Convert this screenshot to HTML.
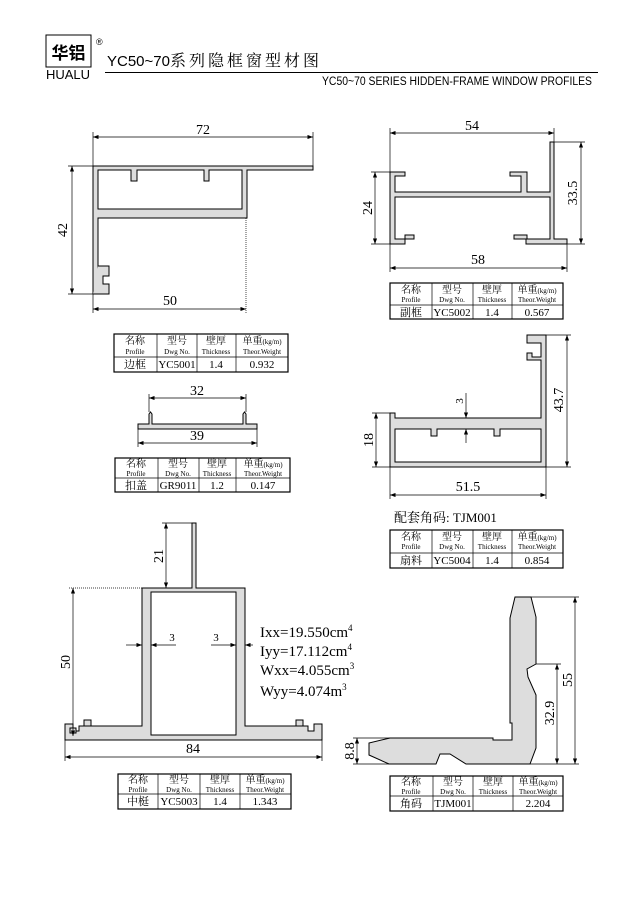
<!DOCTYPE html>
<html><head><meta charset="utf-8"><style>
html,body{margin:0;padding:0;background:#fff}
svg{display:block}
text{font-family:"Liberation Serif","Noto Serif CJK SC",serif;fill:#000}
.s{font-family:"Liberation Sans","Noto Sans CJK SC",sans-serif}
.p{fill:#ddd;stroke:#000;stroke-width:1}
.h{fill:#fff;stroke:#000;stroke-width:1}
.d{stroke:#000;stroke-width:0.7;fill:none}
.t{fill:none;stroke:#000;stroke-width:1.2}
.c{font-size:10px}
.e{font-size:7px}
.b{font-size:11px}
.n{font-size:14px}
</style></head><body>
<svg width="640" height="905" viewBox="0 0 640 905" xmlns="http://www.w3.org/2000/svg">
<defs><marker id="a" markerWidth="8" markerHeight="6" refX="8" refY="3" orient="auto-start-reverse"><path d="M0,0 L8,3 L0,6 z" fill="#000"/></marker></defs>
<!-- header -->
<rect x="46" y="35" width="45" height="32" fill="none" stroke="#000" stroke-width="1"/>
<text x="68.5" y="59" text-anchor="middle" class="s" style="font-size:17px;font-weight:bold">华铝</text>
<text x="96" y="45" class="s" style="font-size:9px">®</text>
<text x="68" y="79" text-anchor="middle" class="s" style="font-size:13px">HUALU</text>
<text x="107" y="66" class="s" style="font-size:15px">YC50~70<tspan style="font-family:'Noto Serif CJK SC',serif;font-size:16px" letter-spacing="3">系列隐框窗型材图</tspan></text>
<line x1="105" y1="72.5" x2="598" y2="72.5" stroke="#000" stroke-width="1"/>
<text x="592" y="85" text-anchor="end" class="s" style="font-size:11.5px" textLength="270" lengthAdjust="spacingAndGlyphs">YC50~70 SERIES HIDDEN-FRAME WINDOW PROFILES</text>

<!-- Profile YC5001 -->
<path class="p" d="M93,166 H313 V170 H247 V218 H98 V294 H109 V284 H103 V276 H109 V266 H98 V294 H93 Z"/>
<path class="h" d="M98,170 H131 V181 H137 V170 H204 V181 H209 V170 H242 V209 H98 Z"/>
<path class="p" d="M93,294 H109 V284 H103 V276 H109 V266 H98"/>
<line class="d" x1="93" y1="137" x2="313" y2="137" marker-start="url(#a)" marker-end="url(#a)"/>
<line class="d" x1="93" y1="132" x2="93" y2="166"/><line class="d" x1="313" y1="132" x2="313" y2="166"/>
<text x="203" y="134" text-anchor="middle" class="n">72</text>
<line class="d" x1="72" y1="166" x2="72" y2="294" marker-start="url(#a)" marker-end="url(#a)"/>
<line class="d" x1="68" y1="166" x2="93" y2="166"/><line class="d" x1="68" y1="294" x2="93" y2="294"/>
<text transform="translate(67,230) rotate(-90)" text-anchor="middle" class="n">42</text>
<line class="d" x1="93" y1="309" x2="246" y2="309" marker-start="url(#a)" marker-end="url(#a)"/>
<line class="d" x1="93" y1="294" x2="93" y2="313"/><line class="d" x1="246" y1="218" x2="246" y2="313" stroke-dasharray="1,1"/>
<text x="170" y="305" text-anchor="middle" class="n">50</text>
<!-- table 1 -->
<g>
<rect class="t" x="114" y="334" width="174" height="38"/>
<line class="d" x1="114" y1="357" x2="288" y2="357"/>
<line class="d" x1="157" y1="334" x2="157" y2="372"/><line class="d" x1="197" y1="334" x2="197" y2="372"/><line class="d" x1="236" y1="334" x2="236" y2="372"/>
<text x="135" y="344" text-anchor="middle" class="c">名称</text><text x="135" y="354" text-anchor="middle" class="e">Profile</text>
<text x="177" y="344" text-anchor="middle" class="c">型号</text><text x="177" y="354" text-anchor="middle" class="e">Dwg No.</text>
<text x="216" y="344" text-anchor="middle" class="c">壁厚</text><text x="216" y="354" text-anchor="middle" class="e">Thickness</text>
<text x="262" y="344" text-anchor="middle" class="c">单重<tspan class="e">(kg/m)</tspan></text><text x="262" y="354" text-anchor="middle" class="e">Theor.Weight</text>
<text x="135" y="368" text-anchor="middle" class="b">边框</text><text x="177" y="368" text-anchor="middle" class="b">YC5001</text><text x="216" y="368" text-anchor="middle" class="b">1.4</text><text x="262" y="368" text-anchor="middle" class="b">0.932</text>
</g>

<!-- Profile YC5002 -->
<path class="p" d="M390,172 H405 V176 H395 V192 H521 V176 H510 V172 H527 V192 H550 V142 H554 V239 H567 V244 H526 V239 H514 V235 H527 V239 H550 V197 H395 V239 H405 V235 H414 V239 H405 V244 H390 Z"/>
<line class="d" x1="390" y1="133" x2="554" y2="133" marker-start="url(#a)" marker-end="url(#a)"/>
<line class="d" x1="390" y1="128" x2="390" y2="172"/><line class="d" x1="554" y1="128" x2="554" y2="142"/>
<text x="472" y="130" text-anchor="middle" class="n">54</text>
<line class="d" x1="390" y1="268" x2="567" y2="268" marker-start="url(#a)" marker-end="url(#a)"/>
<line class="d" x1="390" y1="244" x2="390" y2="272"/><line class="d" x1="567" y1="244" x2="567" y2="272"/>
<text x="478" y="264" text-anchor="middle" class="n">58</text>
<line class="d" x1="375" y1="172" x2="375" y2="244" marker-start="url(#a)" marker-end="url(#a)"/>
<line class="d" x1="371" y1="172" x2="390" y2="172"/><line class="d" x1="371" y1="244" x2="390" y2="244"/>
<text transform="translate(372,208) rotate(-90)" text-anchor="middle" class="n">24</text>
<line class="d" x1="581" y1="142" x2="581" y2="244" marker-start="url(#a)" marker-end="url(#a)"/>
<line class="d" x1="554" y1="142" x2="585" y2="142"/><line class="d" x1="567" y1="244" x2="585" y2="244"/>
<text transform="translate(577,193) rotate(-90)" text-anchor="middle" class="n">33.5</text>
<g>
<rect class="t" x="390" y="283" width="173" height="36"/>
<line class="d" x1="390" y1="305" x2="563" y2="305"/>
<line class="d" x1="432" y1="283" x2="432" y2="319"/><line class="d" x1="473" y1="283" x2="473" y2="319"/><line class="d" x1="512" y1="283" x2="512" y2="319"/>
<text x="411" y="293" text-anchor="middle" class="c">名称</text><text x="411" y="302" text-anchor="middle" class="e">Profile</text>
<text x="452" y="293" text-anchor="middle" class="c">型号</text><text x="452" y="302" text-anchor="middle" class="e">Dwg No.</text>
<text x="492" y="293" text-anchor="middle" class="c">壁厚</text><text x="492" y="302" text-anchor="middle" class="e">Thickness</text>
<text x="537" y="293" text-anchor="middle" class="c">单重<tspan class="e">(kg/m)</tspan></text><text x="537" y="302" text-anchor="middle" class="e">Theor.Weight</text>
<text x="411" y="316" text-anchor="middle" class="b">副框</text><text x="452" y="316" text-anchor="middle" class="b">YC5002</text><text x="492" y="316" text-anchor="middle" class="b">1.4</text><text x="537" y="316" text-anchor="middle" class="b">0.567</text>
</g>

<!-- Profile GR9011 -->
<path class="p" d="M138,424 H149 V414 L150.5,412 L152,414 V424 H243 V414 L244.5,412 L246,414 V424 H257 V429 H138 Z"/>
<line class="d" x1="149" y1="398" x2="246" y2="398" marker-start="url(#a)" marker-end="url(#a)"/>
<line class="d" x1="149" y1="394" x2="149" y2="412"/><line class="d" x1="246" y1="394" x2="246" y2="412"/>
<text x="197" y="395" text-anchor="middle" class="n">32</text>
<line class="d" x1="138" y1="443" x2="257" y2="443" marker-start="url(#a)" marker-end="url(#a)"/>
<line class="d" x1="138" y1="429" x2="138" y2="447"/><line class="d" x1="257" y1="429" x2="257" y2="447"/>
<text x="197" y="440" text-anchor="middle" class="n">39</text>
<g>
<rect class="t" x="115" y="458" width="175" height="34"/>
<line class="d" x1="115" y1="478" x2="290" y2="478"/>
<line class="d" x1="158" y1="458" x2="158" y2="492"/><line class="d" x1="199" y1="458" x2="199" y2="492"/><line class="d" x1="236" y1="458" x2="236" y2="492"/>
<text x="136" y="467" text-anchor="middle" class="c">名称</text><text x="136" y="476" text-anchor="middle" class="e">Profile</text>
<text x="178" y="467" text-anchor="middle" class="c">型号</text><text x="178" y="476" text-anchor="middle" class="e">Dwg No.</text>
<text x="217" y="467" text-anchor="middle" class="c">壁厚</text><text x="217" y="476" text-anchor="middle" class="e">Thickness</text>
<text x="263" y="467" text-anchor="middle" class="c">单重<tspan class="e">(kg/m)</tspan></text><text x="263" y="476" text-anchor="middle" class="e">Theor.Weight</text>
<text x="136" y="489" text-anchor="middle" class="b">扣盖</text><text x="178" y="489" text-anchor="middle" class="b">GR9011</text><text x="217" y="489" text-anchor="middle" class="b">1.2</text><text x="263" y="489" text-anchor="middle" class="b">0.147</text>
</g>

<!-- Profile YC5004 -->
<path class="p" d="M390,413 H395 V418 H541 V360 H527 V353 H532 V357 H541 V343 H527 V335 H546 V467 H390 Z"/>
<path class="h" d="M395,429 H431 V436 H437 V429 H494 V436 H500 V429 H541 V462 H395 Z"/>
<line class="d" x1="390" y1="495" x2="546" y2="495" marker-start="url(#a)" marker-end="url(#a)"/>
<line class="d" x1="390" y1="467" x2="390" y2="499"/><line class="d" x1="546" y1="467" x2="546" y2="499"/>
<text x="468" y="491" text-anchor="middle" class="n">51.5</text>
<line class="d" x1="376" y1="413" x2="376" y2="467" marker-start="url(#a)" marker-end="url(#a)"/>
<line class="d" x1="372" y1="413" x2="390" y2="413"/><line class="d" x1="372" y1="467" x2="390" y2="467"/>
<text transform="translate(373,440) rotate(-90)" text-anchor="middle" class="n">18</text>
<line class="d" x1="567" y1="335" x2="567" y2="467" marker-start="url(#a)" marker-end="url(#a)"/>
<line class="d" x1="546" y1="335" x2="571" y2="335"/><line class="d" x1="546" y1="467" x2="571" y2="467"/>
<text transform="translate(563,400) rotate(-90)" text-anchor="middle" class="n">43.7</text>
<line class="d" x1="466" y1="393" x2="466" y2="418" marker-end="url(#a)"/>
<line class="d" x1="466" y1="443" x2="466" y2="429" marker-end="url(#a)"/>
<text transform="translate(463,401) rotate(-90)" text-anchor="middle" style="font-size:11px">3</text>
<text x="394" y="522" style="font-size:13px">配套角码: TJM001</text>
<g>
<rect class="t" x="390" y="530" width="173" height="38"/>
<line class="d" x1="390" y1="553" x2="563" y2="553"/>
<line class="d" x1="432" y1="530" x2="432" y2="568"/><line class="d" x1="473" y1="530" x2="473" y2="568"/><line class="d" x1="512" y1="530" x2="512" y2="568"/>
<text x="411" y="540" text-anchor="middle" class="c">名称</text><text x="411" y="549" text-anchor="middle" class="e">Profile</text>
<text x="452" y="540" text-anchor="middle" class="c">型号</text><text x="452" y="549" text-anchor="middle" class="e">Dwg No.</text>
<text x="492" y="540" text-anchor="middle" class="c">壁厚</text><text x="492" y="549" text-anchor="middle" class="e">Thickness</text>
<text x="537" y="540" text-anchor="middle" class="c">单重<tspan class="e">(kg/m)</tspan></text><text x="537" y="549" text-anchor="middle" class="e">Theor.Weight</text>
<text x="411" y="564" text-anchor="middle" class="b">扇料</text><text x="452" y="564" text-anchor="middle" class="b">YC5004</text><text x="492" y="564" text-anchor="middle" class="b">1.4</text><text x="537" y="564" text-anchor="middle" class="b">0.854</text>
</g>

<!-- Profile YC5003 -->
<path class="p" d="M192,523 H196 V588 H245 V726 H308 V731 H314 V724 H322 V740 H65 V724 H73 V731 H79 V726 H142 V588 H192 Z"/>
<path class="h" d="M151,592 H236 V735 H151 Z"/>
<path class="h" d="M70,728 H76 V733 H70 Z" style="fill:#ddd"/>
<path class="p" d="M84,726 V720 H91 V726 Z"/><path class="p" d="M296,726 V720 H303 V726 Z"/>
<line class="d" x1="166" y1="523" x2="166" y2="588" marker-start="url(#a)" marker-end="url(#a)"/>
<line class="d" x1="162" y1="523" x2="192" y2="523"/>
<text transform="translate(163,556) rotate(-90)" text-anchor="middle" class="n">21</text>
<line class="d" x1="73" y1="588" x2="73" y2="736" marker-start="url(#a)" marker-end="url(#a)"/>
<line class="d" x1="69" y1="588" x2="142" y2="588" stroke-dasharray="1,1"/>
<text transform="translate(70,662) rotate(-90)" text-anchor="middle" class="n">50</text>
<line class="d" x1="65" y1="757" x2="322" y2="757" marker-start="url(#a)" marker-end="url(#a)"/>
<line class="d" x1="65" y1="740" x2="65" y2="761"/><line class="d" x1="322" y1="740" x2="322" y2="761"/>
<text x="193" y="753" text-anchor="middle" class="n">84</text>
<line class="d" x1="126" y1="645" x2="142" y2="645" marker-end="url(#a)"/>
<line class="d" x1="176" y1="645" x2="151" y2="645" marker-end="url(#a)"/>
<text x="172" y="641" text-anchor="middle" style="font-size:11px">3</text>
<line class="d" x1="211" y1="645" x2="236" y2="645" marker-end="url(#a)"/>
<line class="d" x1="253" y1="645" x2="245" y2="645" marker-end="url(#a)"/>
<text x="216" y="641" text-anchor="middle" style="font-size:11px">3</text>
<text x="260" y="637" style="font-size:15px">Ixx=19.550cm<tspan dy="-6" style="font-size:9px">4</tspan></text>
<text x="260" y="656" style="font-size:15px">Iyy=17.112cm<tspan dy="-6" style="font-size:9px">4</tspan></text>
<text x="260" y="675" style="font-size:15px">Wxx=4.055cm<tspan dy="-6" style="font-size:9px">3</tspan></text>
<text x="260" y="696" style="font-size:15px">Wyy=4.074m<tspan dy="-6" style="font-size:9px">3</tspan></text>
<g>
<rect class="t" x="118" y="774" width="173" height="35"/>
<line class="d" x1="118" y1="794" x2="291" y2="794"/>
<line class="d" x1="158" y1="774" x2="158" y2="809"/><line class="d" x1="200" y1="774" x2="200" y2="809"/><line class="d" x1="240" y1="774" x2="240" y2="809"/>
<text x="138" y="783" text-anchor="middle" class="c">名称</text><text x="138" y="792" text-anchor="middle" class="e">Profile</text>
<text x="179" y="783" text-anchor="middle" class="c">型号</text><text x="179" y="792" text-anchor="middle" class="e">Dwg No.</text>
<text x="220" y="783" text-anchor="middle" class="c">壁厚</text><text x="220" y="792" text-anchor="middle" class="e">Thickness</text>
<text x="265" y="783" text-anchor="middle" class="c">单重<tspan class="e">(kg/m)</tspan></text><text x="265" y="792" text-anchor="middle" class="e">Theor.Weight</text>
<text x="138" y="805" text-anchor="middle" class="b">中梃</text><text x="179" y="805" text-anchor="middle" class="b">YC5003</text><text x="220" y="805" text-anchor="middle" class="b">1.4</text><text x="265" y="805" text-anchor="middle" class="b">1.343</text>
</g>

<!-- Profile TJM001 -->
<path class="p" d="M515,597 H531 L536,617 V664 L527,669 L528,677 L536,695 V748 L530,764 H466 L450,754 H440 L436,764 H389 L369,755 V743 L390,738 H493 V740 H512 V723 H510 V618 Z"/>
<line class="d" x1="575" y1="597" x2="575" y2="764" marker-start="url(#a)" marker-end="url(#a)"/>
<line class="d" x1="531" y1="597" x2="579" y2="597"/><line class="d" x1="530" y1="764" x2="579" y2="764"/>
<text transform="translate(572,680) rotate(-90)" text-anchor="middle" class="n">55</text>
<line class="d" x1="557" y1="664" x2="557" y2="764" marker-start="url(#a)" marker-end="url(#a)"/>
<line class="d" x1="536" y1="664" x2="561" y2="664"/>
<text transform="translate(554,713) rotate(-90)" text-anchor="middle" class="n">32.9</text>
<line class="d" x1="357" y1="738" x2="357" y2="764" marker-start="url(#a)" marker-end="url(#a)"/>
<line class="d" x1="353" y1="738" x2="390" y2="738"/><line class="d" x1="353" y1="764" x2="389" y2="764"/>
<text transform="translate(354,751) rotate(-90)" text-anchor="middle" class="n">8.8</text>
<g>
<rect class="t" x="390" y="776" width="173" height="35"/>
<line class="d" x1="390" y1="796" x2="563" y2="796"/>
<line class="d" x1="433" y1="776" x2="433" y2="811"/><line class="d" x1="473" y1="776" x2="473" y2="811"/><line class="d" x1="513" y1="776" x2="513" y2="811"/>
<text x="411" y="785" text-anchor="middle" class="c">名称</text><text x="411" y="794" text-anchor="middle" class="e">Profile</text>
<text x="453" y="785" text-anchor="middle" class="c">型号</text><text x="453" y="794" text-anchor="middle" class="e">Dwg No.</text>
<text x="493" y="785" text-anchor="middle" class="c">壁厚</text><text x="493" y="794" text-anchor="middle" class="e">Thickness</text>
<text x="538" y="785" text-anchor="middle" class="c">单重<tspan class="e">(kg/m)</tspan></text><text x="538" y="794" text-anchor="middle" class="e">Theor.Weight</text>
<text x="411" y="807" text-anchor="middle" class="b">角码</text><text x="453" y="807" text-anchor="middle" class="b">TJM001</text><text x="538" y="807" text-anchor="middle" class="b">2.204</text>
</g>
</svg>
</body></html>
